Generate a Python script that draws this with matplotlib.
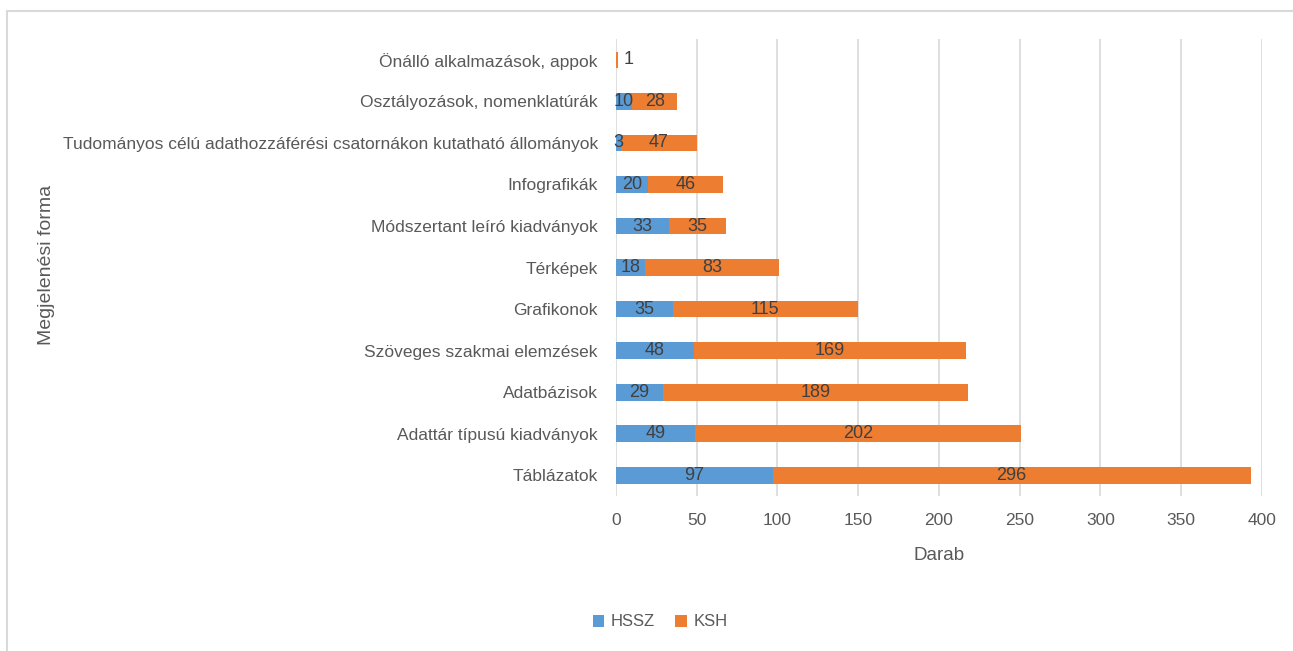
import matplotlib.pyplot as plt
from matplotlib.patches import Rectangle

# kategóriák alulról felfelé
categories = [
    'Táblázatok',
    'Adattár típusú kiadványok',
    'Adatbázisok',
    'Szöveges szakmai elemzések',
    'Grafikonok',
    'Térképek',
    'Módszertant leíró kiadványok',
    'Infografikák',
    'Tudományos célú adathozzáférési csatornákon kutatható állományok',
    'Osztályozások, nomenklatúrák',
    'Önálló alkalmazások, appok',
]
hssz = [97, 49, 29, 48, 35, 18, 33, 20, 3, 10, 0]
ksh = [296, 202, 189, 169, 115, 83, 35, 46, 47, 28, 1]
x_ticks = [0, 50, 100, 150, 200, 250, 300, 350, 400]

BLUE = '#5B9BD5'
ORANGE = '#ED7D31'
TXT = '#595959'
LBL = '#404040'

plt.rcParams['font.family'] = ['Liberation Sans', 'DejaVu Sans']

fig = plt.figure(figsize=(12.93, 6.51), dpi=100)
ax = fig.add_axes([0.4764, 0.238, 0.4996, 0.702])

# keret bal és felső oldal
fig.patches.append(Rectangle((7 / 1293, -0.1), 2.0, 1.1 - 11 / 651,
                             transform=fig.transFigure, fill=False,
                             edgecolor='#D9D9D9', linewidth=1.5))

y = range(len(categories))
b1 = ax.barh(y, hssz, height=0.4, color=BLUE, label='HSSZ', zorder=3)
b2 = ax.barh(y, ksh, left=hssz, height=0.4, color=ORANGE, label='KSH', zorder=3)

for i in y:
    if hssz[i] > 0:
        ax.text(hssz[i] / 2, i, str(hssz[i]), ha='center', va='center',
                fontsize=13, color=LBL, zorder=4)
    if ksh[i] >= 2:
        ax.text(hssz[i] + ksh[i] / 2, i, str(ksh[i]), ha='center', va='center',
                fontsize=13, color=LBL, zorder=4)
    elif ksh[i] > 0:
        ax.annotate(str(ksh[i]), (hssz[i] + ksh[i], i), xytext=(4, 0),
                    textcoords='offset points', ha='left', va='center',
                    fontsize=13, color=LBL, zorder=4)

ax.set_xlim(0, 400)
ax.set_ylim(-0.5, len(categories) - 0.5)
ax.set_xticks(x_ticks)
ax.set_yticks(list(y))
ax.set_yticklabels(categories)
ax.tick_params(axis='x', length=0, labelsize=12.5, labelcolor=TXT, pad=12)
ax.tick_params(axis='y', length=0, labelsize=12.5, labelcolor=TXT, pad=13)
ax.grid(True, axis='x', color='#D9D9D9', linewidth=1.2, zorder=0)
for s in ax.spines.values():
    s.set_visible(False)

ax.set_xlabel('Darab', fontsize=13.5, color=TXT, labelpad=14)
fig.text(47 / 1293, 1 - 265 / 651, 'Megjelenési forma', rotation=90,
         ha='center', va='center', fontsize=14, color=TXT)

fig.legend(handles=[b1, b2], labels=['HSSZ', 'KSH'], loc='center',
           bbox_to_anchor=(660 / 1293, 1 - 622 / 651), ncol=2, frameon=False,
           fontsize=12, labelcolor=TXT, handlelength=0.7, handleheight=0.7,
           handletextpad=0.4, columnspacing=1.2)

fig.savefig('out.png', dpi=100)
